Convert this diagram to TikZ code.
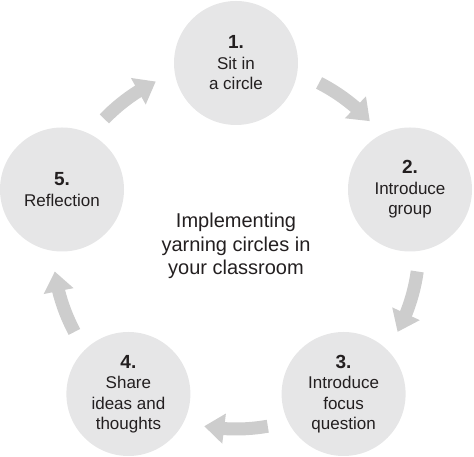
\documentclass[tikz,border=0pt]{standalone}
\usepackage{fontspec}
\setmainfont{Liberation Sans}
\usetikzlibrary{arrows.meta,bending}
\definecolor{circfill}{HTML}{E6E6E7}
\definecolor{arrgray}{HTML}{CDCDCD}
\definecolor{txt}{HTML}{231F20}
\newcommand\stepnum[1]{{\fontsize{19}{20.5}\selectfont\bfseries #1}}
\tikzset{
  stepcirc/.style={circle,fill=circfill,minimum size=124pt,inner sep=0pt,align=center,
    text=txt,font=\fontsize{17}{20.5}\selectfont},
  flow/.style={draw=arrgray,line width=13pt,
    -{Triangle[width=29pt,length=20pt,flex]}},
  centertext/.style={align=center,text=txt,font=\fontsize{20}{23.5}\selectfont}
}
\begin{document}
\begin{tikzpicture}[x=1pt,y=1pt]
\useasboundingbox (0,0) rectangle (474,457);
\coordinate (c) at (236,211);
\node[stepcirc] (s1) at (236,394) {\stepnum{1.}\\Sit in\\a circle};
\node[stepcirc] (s2) at (410,267.5) {\stepnum{2.}\\Introduce\\group};
\node[stepcirc] (s3) at (343.6,63) {\stepnum{3.}\\Introduce\\focus\\question};
\node[stepcirc] (s4) at (128.4,63) {\stepnum{4.}\\Share\\ideas and\\thoughts};
\node[stepcirc] (s5) at (62,267.5) {\stepnum{5.}\\Reflection};
\node[centertext] (t) at (c) {Implementing\\yarning circles in\\your classroom};
\draw[flow] ([shift={(63:183)}]c) arc[start angle=63,end angle=43,radius=183];
\draw[flow] ([shift={(-8:183)}]c) arc[start angle=-8,end angle=-28,radius=183];
\draw[flow] ([shift={(-80:183)}]c) arc[start angle=-80,end angle=-100,radius=183];
\draw[flow] ([shift={(208:183)}]c) arc[start angle=208,end angle=188,radius=183];
\draw[flow] ([shift={(136:183)}]c) arc[start angle=136,end angle=116,radius=183];
\end{tikzpicture}
\end{document}
